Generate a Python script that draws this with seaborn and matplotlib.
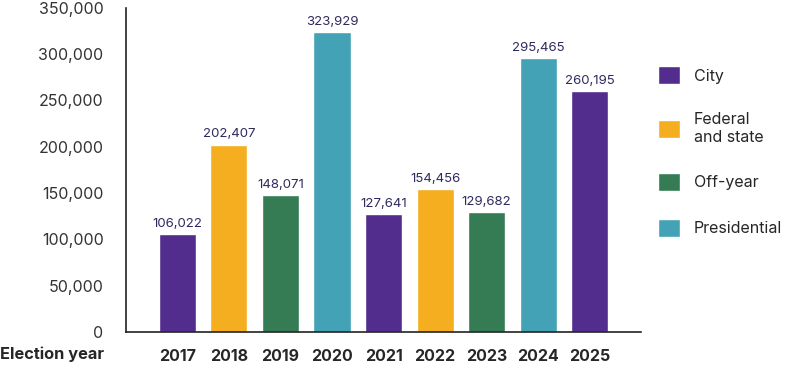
import pandas as pd
import matplotlib.pyplot as plt
import seaborn as sns

# Дані
years = ["2017", "2018", "2019", "2020", "2021", "2022", "2023", "2024", "2025"]
votes = [106022, 202407, 148071, 323929, 127641, 154456, 129682, 295465, 260195]
kinds = ["City", "Federal\nand state", "Off-year", "Presidential",
         "City", "Federal\nand state", "Off-year", "Presidential", "City"]
kind_order = ["City", "Federal\nand state", "Off-year", "Presidential"]
colors = ["#522d8e", "#f5ae1f", "#357c55", "#43a2b6"]

df = pd.DataFrame({"year": years, "votes": votes, "kind": kinds})

sns.set_style("white")
plt.rcParams["font.family"] = ["Inter", "DejaVu Sans"]

fig = plt.figure(figsize=(7.86, 3.73), dpi=100)
ax = fig.add_axes([0.160, 0.110, 0.656, 0.869])

sns.barplot(data=df, x="year", y="votes", hue="kind", hue_order=kind_order,
            palette=colors, dodge=False, width=0.72, saturation=1, ax=ax)

for c in ax.containers:
    ax.bar_label(c, fmt="{:,.0f}", padding=3, fontsize=9.5, color="#2e2a5e")

ax.set_xlim(-1, 9)
ax.set_ylim(0, 350000)
ax.set_yticks(range(0, 350001, 50000))
ax.yaxis.set_major_formatter(plt.FuncFormatter(lambda v, p: f"{v:,.0f}"))
ax.set_xlabel("")
ax.set_ylabel("")

for s in ["top", "right"]:
    ax.spines[s].set_visible(False)
for s in ["left", "bottom"]:
    ax.spines[s].set_color("#222222")
    ax.spines[s].set_linewidth(1.2)

ax.tick_params(axis="y", direction="in", length=8, width=1.2, color="#222222",
               pad=16, labelsize=11.5, labelcolor="#333333")
ax.tick_params(axis="x", length=0, pad=12, labelsize=11.5)
for t in ax.get_xticklabels():
    t.set_fontweight("bold")

fig.text(0.0, 0.03, "Election year", fontsize=11.8, fontweight="bold", va="bottom", ha="left")

ax.legend(title=None, frameon=False, loc="upper left", bbox_to_anchor=(1.033, 0.82),
          fontsize=11.5, handlelength=1.38, handleheight=1.38, labelspacing=1.75,
          handletextpad=0.85, borderaxespad=0, borderpad=0)

plt.savefig("out.png", dpi=100)
